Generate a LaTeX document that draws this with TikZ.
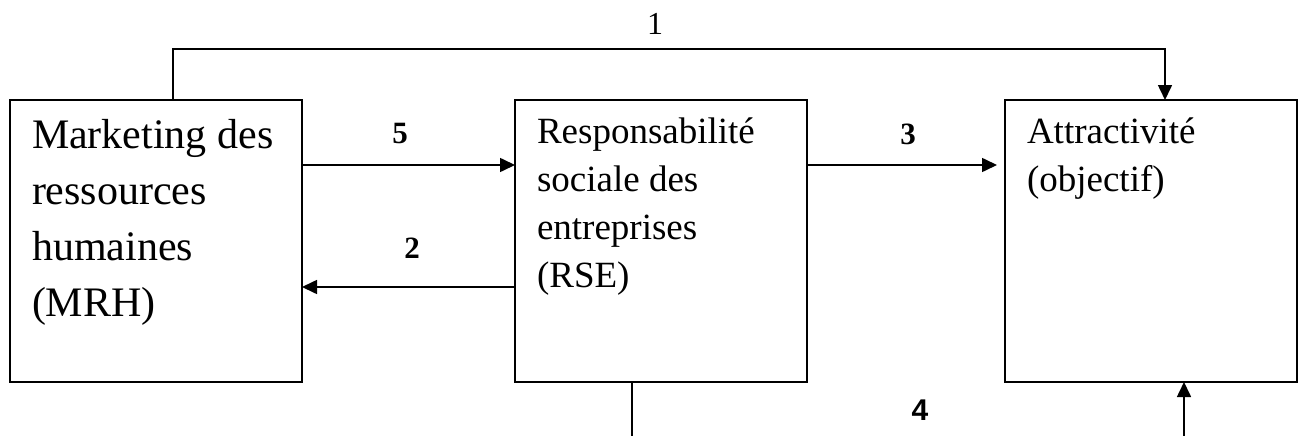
\documentclass[tikz,border=0pt]{standalone}
\usepackage{fontspec}
\setmainfont{Liberation Serif}
\newfontfamily\arialfont{Liberation Sans}
\usetikzlibrary{arrows.meta,positioning}

\begin{document}
\begin{tikzpicture}[node distance=213pt,>={Triangle[length=15pt,width=14pt]}]
\tikzset{box/.style={draw,line width=1.6pt,outer sep=0pt,inner xsep=22pt,inner ysep=0pt,minimum width=292pt,minimum height=282pt}, arrow/.style={->,line width=1.6pt}, num/.style={font=\bfseries\fontsize{31}{31}\selectfont,inner sep=0pt}}
\useasboundingbox (0,0) rectangle (1301pt,-436pt);
\node[box] (mrh) at (156pt,-241pt) {\parbox[c][282pt][t]{248pt}{\raggedright\fontsize{42}{56}\selectfont\rule{0pt}{48pt}Marketing des\\ressources\\humaines\\(MRH)}};
\node[box,right=of mrh] (rse) {\parbox[c][282pt][t]{248pt}{\raggedright\fontsize{37}{48}\selectfont\rule{0pt}{43pt}Responsabilité\\sociale des\\entreprises\\(RSE)}};
\node[box,right=198pt of rse] (attr) {\parbox[c][282pt][t]{248pt}{\raggedright\fontsize{37}{48}\selectfont\rule{0pt}{43pt}Attractivité\\(objectif)}};
\coordinate (rseout) at (632pt,-440pt);
\coordinate (attrin) at (1184pt,-440pt);
\draw[arrow] ([xshift=163pt]mrh.north west) -- ++(0,51pt) -| ([xshift=160pt]attr.north west);
\draw[arrow] ([yshift=76pt]mrh.east) -- ([yshift=76pt]rse.west);
\draw[arrow] ([yshift=-46pt]rse.west) -- ([yshift=-46pt]mrh.east);
\draw[arrow] ([yshift=76pt]rse.east) -- ([yshift=76pt,xshift=-8pt]attr.west);
\draw[line width=1.6pt] ([xshift=117pt]rse.south west) -- (rseout);
\draw[arrow] (attrin) -- ([xshift=179pt]attr.south west);
\node[font=\fontsize{32}{32}\selectfont,inner sep=0pt] (n1) at (655pt,-24pt) {1};
\node[num] (n5) at (400pt,-134pt) {5};
\node[num] (n2) at (412pt,-248pt) {2};
\node[num] (n3) at (908pt,-134pt) {3};
\node[font=\arialfont\bfseries\fontsize{30}{30}\selectfont,inner sep=0pt] (n4) at (920pt,-410pt) {4};
\end{tikzpicture}
\end{document}
